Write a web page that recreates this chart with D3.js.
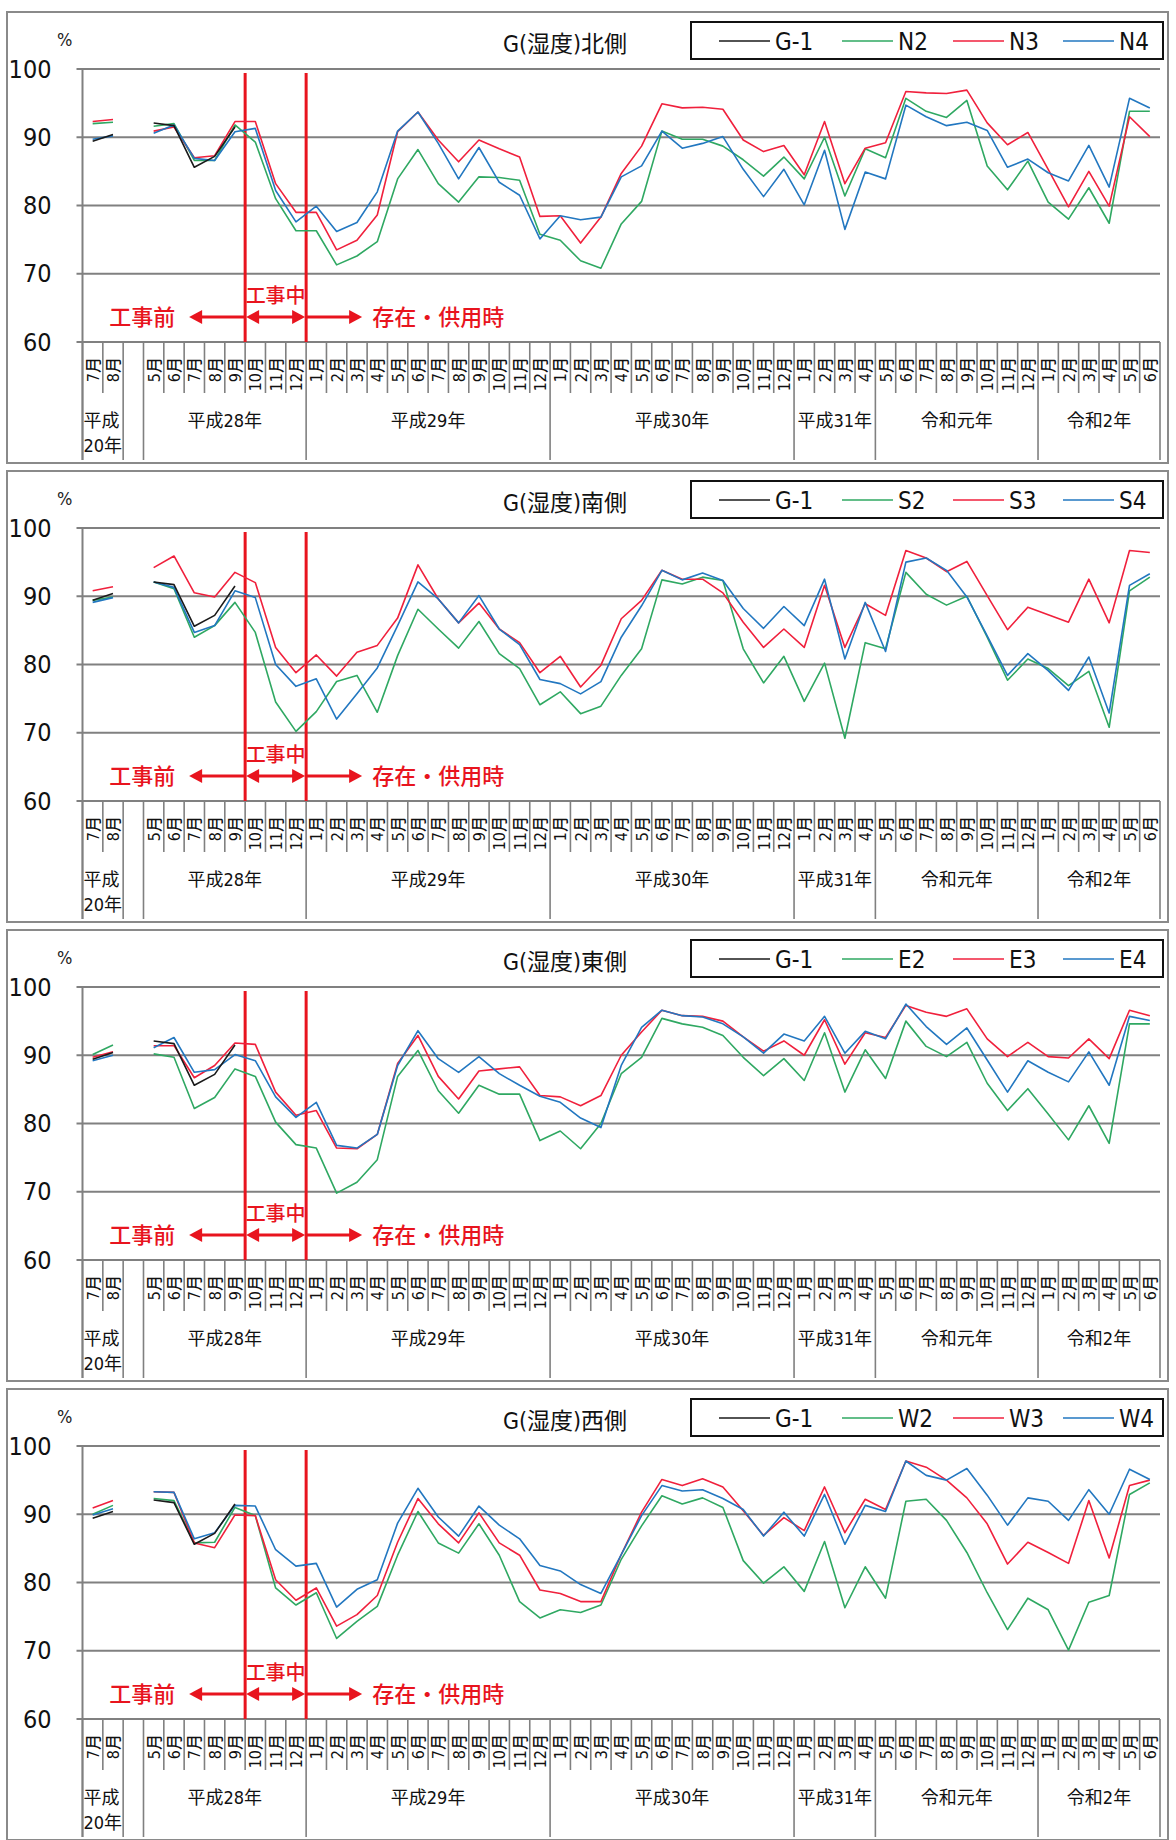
<!DOCTYPE html>
<html>
<head>
<meta charset="utf-8">
<script src="https://cdn.jsdelivr.net/npm/d3@7"></script>
<style>
  body { margin: 0; background: #fff; }
  text { font-family: "Liberation Sans Narrow", "DejaVu Sans Condensed", "Noto Sans CJK JP", sans-serif; }
</style>
</head>
<body>
<div id="my_dataviz"></div>
<script>
// 1. Data: month categories (index 2 is the empty gap column), year groups, series
const months = ["7月", "8月", "",
  "5月", "6月", "7月", "8月", "9月", "10月", "11月", "12月",
  "1月", "2月", "3月", "4月", "5月", "6月", "7月", "8月", "9月", "10月", "11月", "12月",
  "1月", "2月", "3月", "4月", "5月", "6月", "7月", "8月", "9月", "10月", "11月", "12月",
  "1月", "2月", "3月", "4月",
  "5月", "6月", "7月", "8月", "9月", "10月", "11月", "12月",
  "1月", "2月", "3月", "4月", "5月", "6月"];

// year groups: [label, first column, last column]
const yearGroups = [
  ["平成\n20年", 0, 1], ["平成28年", 3, 10], ["平成29年", 11, 22], ["平成30年", 23, 34],
  ["平成31年", 35, 38], ["令和元年", 39, 46], ["令和2年", 47, 52]
];
const yTicks = [60, 70, 80, 90, 100];

const _ = null;
// G-1 (shared reference point), only measured in H20 and before construction
const g1 = [89.4, 90.4, _, 92.1, 91.7, 85.6, 87.2, 91.5, _, _, _,
  _, _, _, _, _, _, _, _, _, _, _, _,
  _, _, _, _, _, _, _, _, _, _, _, _,
  _, _, _, _, _, _, _, _, _, _, _, _,
  _, _, _, _, _, _];

// 北側
const n2 = [92.0, 92.2, _, 91.6, 92.0, 86.6, 86.6, 91.8, 89.3, 81.0, 76.3,
  76.3, 71.3, 72.6, 74.7, 83.9, 88.2, 83.2, 80.5, 84.2, 84.1, 83.7, 75.8,
  74.9, 71.9, 70.8, 77.3, 80.6, 90.9, 89.7, 89.7, 88.7, 86.7, 84.3, 87.1,
  83.9, 90.0, 81.4, 88.3,
  87.0, 95.7, 93.8, 92.9, 95.4, 85.8, 82.3, 86.5,
  80.5, 78.0, 82.6, 77.4, 93.8, 93.8];
const n3 = [92.3, 92.6, _, 90.9, 91.5, 87.0, 87.3, 92.3, 92.3, 83.2, 79.0,
  79.0, 73.5, 74.9, 78.6, 90.8, 93.7, 89.6, 86.4, 89.6, 88.3, 87.1, 78.4,
  78.5, 74.5, 78.3, 84.7, 88.7, 94.9, 94.3, 94.4, 94.1, 89.6, 87.9, 88.8,
  84.5, 92.3, 83.2, 88.4,
  89.2, 96.7, 96.5, 96.4, 96.9, 92.1, 88.9, 90.7,
  85.3, 79.8, 85.0, 79.9, 93.0, 90.1];
const n4 = [89.7, 90.2, _, 90.6, 91.8, 86.9, 86.6, 90.8, 91.3, 82.2, 77.6,
  79.9, 76.2, 77.5, 82.0, 90.9, 93.7, 89.1, 83.9, 88.5, 83.4, 81.5, 75.1,
  78.5, 77.9, 78.3, 84.2, 85.8, 90.9, 88.4, 89.1, 90.1, 85.3, 81.3, 85.3,
  80.1, 88.1, 76.5, 84.9,
  83.9, 94.7, 93.0, 91.7, 92.2, 91.0, 85.6, 86.8,
  84.8, 83.6, 88.8, 82.7, 95.7, 94.3];

// 南側
const s2 = [89.4, 89.9, _, 92.1, 91.1, 84.0, 85.7, 89.1, 84.7, 74.5, 70.2,
  73.1, 77.5, 78.4, 73.0, 81.3, 88.1, 85.2, 82.4, 86.3, 81.6, 79.4, 74.1,
  76.0, 72.8, 73.9, 78.4, 82.3, 92.4, 91.8, 92.8, 92.3, 82.3, 77.3, 81.2,
  74.6, 80.2, 69.2, 83.2,
  82.3, 93.5, 90.3, 88.7, 90.0, 84.0, 77.7, 80.8,
  79.4, 76.9, 79.0, 70.8, 90.8, 92.8];
const s3 = [90.8, 91.4, _, 94.2, 95.9, 90.5, 89.9, 93.5, 92.0, 82.5, 78.8,
  81.4, 78.3, 81.8, 82.8, 86.8, 94.6, 89.6, 86.1, 89.0, 85.2, 83.2, 78.8,
  81.2, 76.7, 79.9, 86.7, 89.4, 93.8, 92.5, 92.5, 90.5, 86.2, 82.5, 85.2,
  82.5, 91.6, 82.5, 88.9,
  87.2, 96.7, 95.6, 93.6, 95.1, 90.1, 85.1, 88.4,
  87.3, 86.2, 92.5, 86.1, 96.7, 96.4];
const s4 = [89.1, 89.8, _, 92.1, 91.3, 84.7, 85.7, 90.8, 89.8, 80.0, 76.8,
  77.9, 72.0, 75.7, 79.5, 85.7, 92.1, 89.6, 86.1, 90.1, 85.2, 82.9, 77.8,
  77.2, 75.7, 77.5, 84.0, 88.6, 93.8, 92.4, 93.4, 92.3, 88.2, 85.3, 88.5,
  85.7, 92.5, 80.8, 89.1,
  81.9, 95.0, 95.6, 93.8, 89.9, 84.2, 78.4, 81.6,
  79.1, 76.2, 81.1, 72.9, 91.6, 93.3];

// 東側
const e2 = [90.1, 91.5, _, 90.2, 89.7, 82.2, 83.8, 88.0, 86.9, 80.2, 76.9,
  76.4, 69.8, 71.4, 74.7, 86.9, 90.7, 84.8, 81.5, 85.6, 84.3, 84.3, 77.5,
  78.9, 76.3, 80.0, 87.3, 89.7, 95.4, 94.6, 94.1, 92.9, 89.7, 87.0, 89.5,
  86.3, 93.3, 84.6, 90.8,
  86.6, 95.0, 91.3, 89.8, 91.9, 85.9, 81.9, 85.1,
  81.4, 77.6, 82.6, 77.1, 94.6, 94.6];
const e3 = [89.7, 90.5, _, 91.4, 91.4, 86.7, 88.5, 91.8, 91.6, 84.6, 81.2,
  81.9, 76.4, 76.3, 78.4, 88.8, 92.9, 86.9, 83.6, 87.7, 88.0, 88.3, 84.1,
  83.9, 82.6, 84.1, 90.0, 93.4, 96.6, 95.8, 95.7, 95.0, 92.7, 90.6, 92.1,
  90.0, 95.2, 88.7, 93.3,
  92.6, 97.3, 96.3, 95.7, 96.8, 92.4, 89.8, 91.9,
  89.8, 89.6, 92.4, 89.5, 96.6, 95.8];
const e4 = [89.2, 90.0, _, 91.1, 92.6, 87.5, 87.9, 90.1, 89.2, 83.9, 80.9,
  83.1, 76.8, 76.4, 78.4, 88.5, 93.6, 89.5, 87.5, 89.8, 87.3, 85.6, 84.0,
  83.1, 80.8, 79.4, 88.5, 94.1, 96.6, 95.8, 95.6, 94.6, 92.7, 90.3, 93.1,
  92.1, 95.7, 90.3, 93.5,
  92.4, 97.5, 94.2, 91.6, 94.0, 89.3, 84.6, 89.2,
  87.5, 86.1, 90.5, 85.6, 95.7, 95.1];

// 西側
const w2 = [90.0, 91.3, _, 92.3, 92.0, 85.8, 85.9, 91.0, 89.8, 79.2, 76.7,
  78.5, 71.8, 74.3, 76.5, 84.0, 90.4, 85.8, 84.3, 88.6, 84.0, 77.2, 74.8,
  76.0, 75.6, 76.7, 83.4, 88.3, 92.7, 91.5, 92.4, 91.0, 83.2, 79.9, 82.3,
  78.7, 86.0, 76.3, 82.3,
  77.7, 91.9, 92.2, 89.1, 84.4, 78.5, 73.1, 77.7,
  76.0, 70.1, 77.1, 78.1, 92.9, 94.6];
const w3 = [90.9, 92.0, _, 93.3, 93.2, 85.8, 85.1, 89.9, 89.8, 80.4, 77.4,
  79.2, 73.6, 75.3, 78.1, 85.9, 92.3, 88.6, 85.8, 90.2, 85.8, 84.0, 78.9,
  78.4, 77.2, 77.2, 84.1, 90.3, 95.1, 94.2, 95.2, 94.0, 90.5, 86.9, 89.5,
  87.6, 94.0, 87.3, 92.2,
  90.7, 97.8, 96.9, 95.0, 92.4, 88.6, 82.7, 85.9,
  84.4, 82.8, 92.0, 83.6, 94.2, 95.0];
const w4 = [89.9, 90.8, _, 93.3, 93.2, 86.4, 87.3, 91.3, 91.2, 84.8, 82.4,
  82.8, 76.4, 79.0, 80.4, 88.7, 93.8, 89.6, 86.8, 91.2, 88.4, 86.4, 82.5,
  81.7, 79.7, 78.4, 84.1, 89.8, 94.2, 93.4, 93.6, 92.3, 90.7, 86.8, 90.3,
  86.8, 92.9, 85.6, 91.3,
  90.4, 97.8, 95.7, 95.0, 96.7, 92.8, 88.4, 92.4,
  91.9, 89.1, 93.6, 90.0, 96.6, 95.1];

const panels = [
  { title: "G(湿度)北側", names: ["G-1", "N2", "N3", "N4"], series: [g1, n2, n3, n4] },
  { title: "G(湿度)南側", names: ["G-1", "S2", "S3", "S4"], series: [g1, s2, s3, s4] },
  { title: "G(湿度)東側", names: ["G-1", "E2", "E3", "E4"], series: [g1, e2, e3, e4] },
  { title: "G(湿度)西側", names: ["G-1", "W2", "W3", "W4"], series: [g1, w2, w3, w4] }
];
const colors = ["#1a1a1a", "#2fa862", "#f0203c", "#2277c0"];

// 2. Sizes
const width = 1176, height = 1840;
const panelTop = 12, panelStep = 459, panelH = 451;
const plotLeft = 82.5, plotRight = 1160;
const yTop = 57, yBottom = 330;   // offsets of 100 and 60 inside a panel
const red = "#e8141e", gridColor = "#808080";

const svg = d3.select("#my_dataviz")
  .append("svg")
  .attr("width", width)
  .attr("height", height);

const x = d3.scaleBand()
  .domain(d3.range(months.length))
  .range([plotLeft, plotRight])
  .paddingInner(0);
const bw = x.bandwidth();
const cx = (i) => x(i) + bw / 2;

// arrow head helper, dir = -1 points left, +1 points right
function head(g, xTip, yMid, dir) {
  g.append("path")
    .attr("d", `M${xTip},${yMid} L${xTip - dir * 13},${yMid - 7} L${xTip - dir * 13},${yMid + 7} Z`)
    .attr("fill", red);
}

// 3. Draw each panel
panels.forEach((p, k) => {
  const T = panelTop + k * panelStep;
  const g = svg.append("g");

  const y = d3.scaleLinear().domain([60, 100]).range([T + yBottom, T + yTop]);

  // frame
  g.append("rect")
    .attr("x", 7).attr("y", T).attr("width", 1161).attr("height", panelH)
    .attr("fill", "none").attr("stroke", "#8a8a8a").attr("stroke-width", 2);

  // horizontal grid
  g.selectAll(".grid")
    .data(yTicks)
    .join("line")
    .attr("x1", plotLeft - 6).attr("x2", plotRight)
    .attr("y1", (d) => y(d)).attr("y2", (d) => y(d))
    .attr("stroke", gridColor).attr("stroke-width", 2);

  // y labels
  const yAxis = g.append("g")
    .attr("transform", `translate(${plotLeft},0)`)
    .call(d3.axisLeft(y).tickValues(yTicks).tickSize(0).tickPadding(31).tickFormat(d3.format("d")));
  yAxis.select(".domain").remove();
  yAxis.selectAll("text")
    .style("font-family", "'Liberation Sans Narrow', 'DejaVu Sans Condensed', sans-serif")
    .style("font-size", "25px").attr("fill", "#111");

  g.append("text")
    .attr("x", 57).attr("y", T + 34)
    .style("font-size", "18px").attr("fill", "#222")
    .text("%");

  // left axis line down to bottom
  g.append("line")
    .attr("x1", plotLeft).attr("x2", plotLeft)
    .attr("y1", T + yTop).attr("y2", T + 448)
    .attr("stroke", gridColor).attr("stroke-width", 2);

  // month ticks and year separators
  const fullSeps = [0, 2, 3];
  yearGroups.forEach((yg) => fullSeps.push(yg[1], yg[2] + 1));
  const bounds = d3.range(months.length + 1);
  g.selectAll(".mtick")
    .data(bounds)
    .join("line")
    .attr("x1", (b) => plotLeft + b * bw).attr("x2", (b) => plotLeft + b * bw)
    .attr("y1", T + yBottom)
    .attr("y2", (b) => fullSeps.includes(b) ? T + 448 : T + 381)
    .attr("stroke", gridColor).attr("stroke-width", 1.6);

  g.selectAll(".mlabel")
    .data(months)
    .join("text")
    .attr("transform", (d, i) => `translate(${cx(i) + 6},${T + 345}) rotate(-90)`)
    .attr("text-anchor", "end")
    .style("font-size", "16px").style("font-weight", "500").attr("fill", "#111")
    .text((d) => d);

  // year labels
  yearGroups.forEach((yg) => {
    const xm = (x(yg[1]) + x(yg[2]) + bw) / 2;
    const lines = yg[0].split("\n");
    lines.forEach((t, j) => {
      g.append("text")
        .attr("x", lines.length > 1 ? x(yg[1]) + 1 : xm)
        .attr("y", T + 415 + j * 25)
        .attr("text-anchor", lines.length > 1 ? "start" : "middle")
        .style("font-size", "18px").attr("fill", "#111")
        .text(t);
    });
  });

  // title
  g.append("text")
    .attr("x", 565).attr("y", T + 40)
    .attr("text-anchor", "middle")
    .style("font-size", "23px").attr("fill", "#111")
    .text(p.title);

  // legend
  g.append("rect")
    .attr("x", 691).attr("y", T + 10).attr("width", 472).attr("height", 37)
    .attr("fill", "#fff").attr("stroke", "#111").attr("stroke-width", 2);
  const legX = [719, 842, 953, 1063];
  p.names.forEach((nm, j) => {
    g.append("line")
      .attr("x1", legX[j]).attr("x2", legX[j] + 51)
      .attr("y1", T + 29).attr("y2", T + 29)
      .attr("stroke", colors[j]).attr("stroke-width", 1.6);
    g.append("text")
      .attr("x", legX[j] + 56).attr("y", T + 38)
      .style("font-size", "24px").attr("fill", "#111")
      .text(nm);
  });

  // construction period markers
  const xb1 = x(8), xb2 = x(11);
  [xb1, xb2].forEach((xx) => {
    g.append("line")
      .attr("x1", xx).attr("x2", xx)
      .attr("y1", T + 61).attr("y2", T + yBottom)
      .attr("stroke", red).attr("stroke-width", 3);
  });
  const ay = T + 305;
  g.append("line").attr("x1", xb1).attr("x2", xb1 - 50).attr("y1", ay).attr("y2", ay)
    .attr("stroke", red).attr("stroke-width", 3);
  head(g, xb1 - 56, ay, -1);
  g.append("line").attr("x1", xb1 + 6).attr("x2", xb2 - 6).attr("y1", ay).attr("y2", ay)
    .attr("stroke", red).attr("stroke-width", 3);
  head(g, xb1 + 1, ay, -1);
  head(g, xb2 - 1, ay, 1);
  g.append("line").attr("x1", xb2).attr("x2", xb2 + 50).attr("y1", ay).attr("y2", ay)
    .attr("stroke", red).attr("stroke-width", 3);
  head(g, xb2 + 56, ay, 1);

  const annStyle = (t) => t.style("font-family", "'Noto Sans CJK JP', sans-serif")
    .style("font-size", "22px").style("font-weight", "500").attr("fill", red);
  g.append("text").attr("x", xb1 - 70).attr("y", ay + 8).attr("text-anchor", "end")
    .call(annStyle).text("工事前");
  g.append("text").attr("x", (xb1 + xb2) / 2).attr("y", ay - 14).attr("text-anchor", "middle")
    .call(annStyle).style("font-size", "20px").text("工事中");
  g.append("text").attr("x", xb2 + 66).attr("y", ay + 8)
    .call(annStyle).text("存在・供用時");

  // series lines (G-1 drawn last so it sits on top)
  const line = d3.line()
    .defined((d) => d != null)
    .x((d, i) => cx(i))
    .y((d) => y(d));
  [1, 2, 3, 0].forEach((s) => {
    g.append("path")
      .datum(p.series[s])
      .attr("d", line)
      .attr("fill", "none")
      .attr("stroke", colors[s])
      .attr("stroke-width", 1.6)
      .attr("stroke-linejoin", "round");
  });
});
</script>
</body>
</html>
